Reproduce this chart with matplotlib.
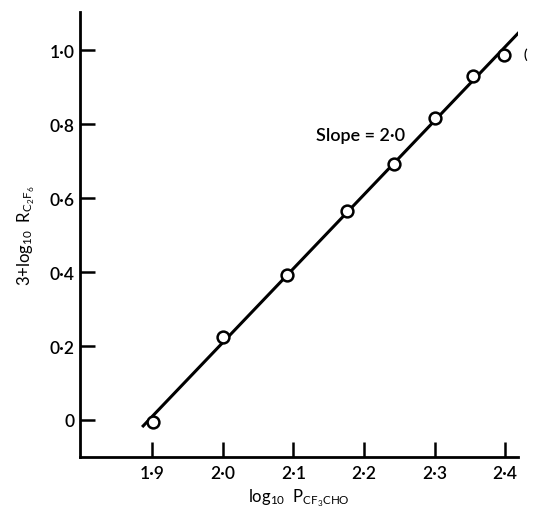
import matplotlib
matplotlib.use('Agg')
import matplotlib.pyplot as plt
import numpy as np

# measured points
log_p = [1.901, 2.000, 2.091, 2.176, 2.242, 2.300, 2.355, 2.398]
log_r = [-0.005, 0.224, 0.392, 0.565, 0.692, 0.816, 0.930, 0.986]

# fitted line, slope 2.0
slope = 2.0
x0 = 1.8955
line_x = [1.886, 2.43]

xticks = [1.9, 2.0, 2.1, 2.2, 2.3, 2.4]
xticklabels = ['1·9', '2·0', '2·1', '2·2', '2·3', '2·4']
yticks = [0, 0.2, 0.4, 0.6, 0.8, 1.0]
yticklabels = ['0', '0·2', '0·4', '0·6', '0·8', '1·0']

plt.rcParams['font.family'] = ['Lato', 'DejaVu Sans']
plt.rcParams['font.weight'] = 'semibold'
plt.rcParams['mathtext.default'] = 'regular'

fig = plt.figure(figsize=(5.44, 5.10), dpi=100)
ax = fig.add_axes([0.147, 0.102, 0.805, 0.8725])

lx = np.array(line_x)
ax.plot(lx, slope * (lx - x0), color='black', lw=2.2, solid_capstyle='butt')
ax.plot(log_p, log_r, 'o', ms=8.5, mfc='white', mec='black', mew=1.8)

ax.set_xlim(1.798, 2.418)
ax.set_ylim(-0.1, 1.103)

for s in ['top', 'right']:
    ax.spines[s].set_visible(False)
for s in ['left', 'bottom']:
    ax.spines[s].set_linewidth(2.0)

ax.set_xticks(xticks)
ax.set_xticklabels(xticklabels)
ax.set_yticks(yticks)
ax.set_yticklabels(yticklabels)
ax.tick_params(axis='both', direction='in', length=11, width=1.8, labelsize=12.5)
ax.tick_params(axis='x', pad=6)
ax.tick_params(axis='y', pad=4)

ax.text(2.195, 0.77, 'Slope = 2·0', fontsize=13, ha='center', va='center')
ax.text(2.426, 0.99, '(', fontsize=10, ha='left', va='center', clip_on=False)

ax.set_xlabel('log$_{10}$  P$_{CF_3CHO}$', fontsize=12, labelpad=4)
ax.set_ylabel('3+log$_{10}$  R$_{C_2F_6}$', fontsize=12, labelpad=9)

fig.savefig('out.png', dpi=100)
